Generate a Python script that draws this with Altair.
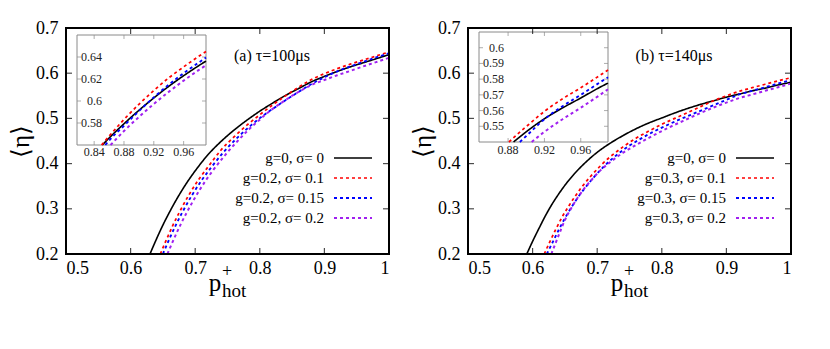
import altair as alt
import pandas as pd

# ---------------- data ----------------
keys = ["s0", "s1", "s2", "s3"]
colors = ["#000000", "#ff0000", "#0000ff", "#a020f0"]
labels_a = ["g=0, σ= 0", "g=0.2, σ= 0.1", "g=0.2, σ= 0.15", "g=0.2, σ= 0.2"]
labels_b = ["g=0, σ= 0", "g=0.3, σ= 0.1", "g=0.3, σ= 0.15", "g=0.3, σ= 0.2"]
title_a = "(a) τ=100μs"
title_b = "(b) τ=140μs"

main_xticks = [0.5, 0.6, 0.7, 0.8, 0.9, 1.0]
main_yticks = [0.2, 0.3, 0.4, 0.5, 0.6, 0.7]

# panel (a) main curves
a_black_x = [0.630, 0.640, 0.650, 0.660, 0.670, 0.680, 0.690, 0.700, 0.720, 0.740, 0.760, 0.780,
             0.800, 0.820, 0.840, 0.860, 0.880, 0.900, 0.920, 0.940, 0.960, 0.980, 1.000]
a_black_y = [0.200, 0.233, 0.264, 0.292, 0.318, 0.342, 0.364, 0.384, 0.420, 0.449, 0.474, 0.496,
             0.516, 0.534, 0.551, 0.566, 0.581, 0.593, 0.604, 0.614, 0.623, 0.632, 0.641]
a_red_x = [0.646, 0.655, 0.665, 0.675, 0.690, 0.705, 0.720, 0.740, 0.760, 0.780, 0.800, 0.820,
           0.840, 0.860, 0.880, 0.900, 0.920, 0.940, 0.960, 0.980, 1.000]
a_red_y = [0.200, 0.230, 0.262, 0.291, 0.330, 0.364, 0.393, 0.430, 0.459, 0.485, 0.508, 0.530,
           0.550, 0.569, 0.586, 0.599, 0.610, 0.620, 0.629, 0.638, 0.647]
a_blue_x = [0.650, 0.660, 0.670, 0.680, 0.695, 0.710, 0.725, 0.745, 0.765, 0.785, 0.805, 0.825,
            0.845, 0.865, 0.880, 0.900, 0.920, 0.940, 0.960, 0.980, 1.000]
a_blue_y = [0.200, 0.233, 0.264, 0.292, 0.330, 0.363, 0.392, 0.427, 0.457, 0.483, 0.506, 0.526,
            0.545, 0.563, 0.576, 0.591, 0.604, 0.615, 0.625, 0.635, 0.644]
a_purple_x = [0.657, 0.667, 0.677, 0.687, 0.697, 0.707, 0.717, 0.727, 0.747, 0.765, 0.782, 0.799,
              0.815, 0.833, 0.851, 0.869, 0.880, 0.900, 0.920, 0.940, 0.960, 0.980, 1.000]
a_purple_y = [0.200, 0.233, 0.264, 0.292, 0.318, 0.342, 0.364, 0.384, 0.420, 0.449, 0.474, 0.496,
              0.516, 0.534, 0.551, 0.566, 0.574, 0.585, 0.5955, 0.605, 0.615, 0.6245, 0.634]

# panel (a) inset curves
ai_black_x = [0.851, 0.860, 0.880, 0.900, 0.920, 0.940, 0.960, 0.980, 0.990]
ai_black_y = [0.560, 0.5663, 0.5793, 0.5915, 0.6028, 0.6133, 0.6230, 0.6320, 0.6363]
ai_red_x = [0.850, 0.860, 0.880, 0.900, 0.920, 0.940, 0.960, 0.980, 0.990]
ai_red_y = [0.560, 0.568, 0.5832, 0.597, 0.6095, 0.621, 0.631, 0.6405, 0.645]
ai_blue_x = [0.855, 0.860, 0.880, 0.900, 0.920, 0.940, 0.960, 0.980, 0.990]
ai_blue_y = [0.560, 0.564, 0.5775, 0.5908, 0.6033, 0.6148, 0.6253, 0.6348, 0.6395]
ai_purple_x = [0.862, 0.870, 0.880, 0.900, 0.920, 0.940, 0.960, 0.980, 0.990]
ai_purple_y = [0.560, 0.5657, 0.5727, 0.5854, 0.5973, 0.6083, 0.6185, 0.628, 0.6325]
ai_xdom = [0.817, 0.99]
ai_ydom = [0.56, 0.66]
ai_xticks = [0.84, 0.88, 0.92, 0.96]
ai_yticks = [0.58, 0.60, 0.62, 0.64]

# panel (b) main curves
b_black_x = [0.591, 0.600, 0.610, 0.620, 0.630, 0.640, 0.650, 0.665, 0.680, 0.700, 0.720, 0.740, 0.760,
             0.780, 0.800, 0.820, 0.840, 0.860, 0.880, 0.900, 0.920, 0.940, 0.960, 0.980, 1.000]
b_black_y = [0.200, 0.228, 0.257, 0.285, 0.310, 0.332, 0.352, 0.378, 0.400, 0.425, 0.445, 0.462, 0.477,
             0.490, 0.501, 0.512, 0.522, 0.531, 0.539, 0.547, 0.554, 0.561, 0.567, 0.574, 0.580]
b_red_x = [0.618, 0.625, 0.635, 0.645, 0.655, 0.665, 0.675, 0.690, 0.705, 0.720, 0.740, 0.760,
           0.780, 0.800, 0.820, 0.840, 0.860, 0.880, 0.900, 0.920, 0.940, 0.960, 0.980, 1.000]
b_red_y = [0.200, 0.222, 0.252, 0.280, 0.304, 0.326, 0.346, 0.372, 0.395, 0.415, 0.437, 0.456,
           0.472, 0.487, 0.500, 0.513, 0.526, 0.539, 0.550, 0.560, 0.568, 0.5755, 0.583, 0.590]
b_blue_x = [0.622, 0.630, 0.640, 0.650, 0.660, 0.670, 0.680, 0.695, 0.710, 0.725, 0.745, 0.765,
            0.785, 0.805, 0.825, 0.845, 0.865, 0.885, 0.900, 0.920, 0.940, 0.960, 0.980, 1.000]
b_blue_y = [0.200, 0.223, 0.252, 0.279, 0.303, 0.325, 0.344, 0.370, 0.393, 0.413, 0.435, 0.453,
            0.469, 0.483, 0.496, 0.508, 0.520, 0.532, 0.541, 0.553, 0.561, 0.569, 0.577, 0.585]
b_purple_x = [0.629, 0.640, 0.650, 0.660, 0.670, 0.680, 0.690, 0.705, 0.720, 0.740, 0.760, 0.780,
              0.800, 0.820, 0.840, 0.860, 0.880, 0.900, 0.920, 0.940, 0.960, 0.980, 1.000]
b_purple_y = [0.200, 0.240, 0.275, 0.302, 0.325, 0.345, 0.362, 0.385, 0.403, 0.424, 0.441, 0.457,
              0.472, 0.486, 0.499, 0.512, 0.524, 0.535, 0.545, 0.553, 0.561, 0.569, 0.577]

# panel (b) inset curves
bi_black_x = [0.886, 0.900, 0.920, 0.940, 0.960, 0.980, 0.990]
bi_black_y = [0.540, 0.5465, 0.5548, 0.5617, 0.5680, 0.5745, 0.5775]
bi_red_x = [0.881, 0.890, 0.900, 0.920, 0.940, 0.960, 0.980, 0.990]
bi_red_y = [0.540, 0.5448, 0.5498, 0.5595, 0.5675, 0.5745, 0.5820, 0.5858]
bi_blue_x = [0.893, 0.900, 0.920, 0.940, 0.960, 0.980, 0.990]
bi_blue_y = [0.540, 0.5438, 0.5545, 0.5628, 0.5700, 0.5775, 0.5812]
bi_purple_x = [0.906, 0.920, 0.940, 0.960, 0.980, 0.990]
bi_purple_y = [0.540, 0.5465, 0.5545, 0.5618, 0.5695, 0.5735]
bi_xdom = [0.848, 0.99]
bi_ydom = [0.54, 0.61]
bi_xticks = [0.88, 0.92, 0.96]
bi_yticks = [0.55, 0.56, 0.57, 0.58, 0.59, 0.60]

# ---------------- layout constants ----------------
W, H = 323, 226
SERIF = "Liberation Serif"


def make_df(xs_list, ys_list):
    rows = []
    for k, xs, ys in zip(keys, xs_list, ys_list):
        for i, (x, y) in enumerate(zip(xs, ys)):
            rows.append({"key": k, "x": x, "y": y, "i": i})
    return pd.DataFrame(rows)


color_enc = alt.Color("key:N", scale=alt.Scale(domain=keys, range=colors), legend=None)
dash_enc = alt.StrokeDash("key:N", scale=alt.Scale(domain=keys, range=[[1, 0], [3, 3], [3, 3], [3, 3]]),
                          legend=None)
width_enc = alt.StrokeWidth("key:O", scale=alt.Scale(domain=keys, range=[1.6, 2, 2, 2]), legend=None)


def panel(main_df, inset_df, labels, title, in_xdom, in_ydom, in_xticks, in_yticks,
          in_xr, in_yr, xlab_dy):
    xs_main = alt.Scale(domain=[0.5, 1.0], nice=False, zero=False)
    ys_main = alt.Scale(domain=[0.2, 0.7], nice=False, zero=False)
    xs_in = alt.Scale(domain=in_xdom, range=in_xr, nice=False, zero=False)
    ys_in = alt.Scale(domain=in_ydom, range=[in_yr[1], in_yr[0]], nice=False, zero=False)

    main_lines = alt.Chart(main_df).mark_line(interpolate="monotone").encode(
        x=alt.X("x:Q", scale=xs_main,
                axis=alt.Axis(orient="bottom", values=main_xticks, format="~g", ticks=False, tickSize=0,
                              domain=False, grid=False, labelFontSize=18, labelPadding=5,
                              labelFont=SERIF, labelColor="black", title=None)),
        y=alt.Y("y:Q", scale=ys_main,
                axis=alt.Axis(orient="left", values=main_yticks, format="~g", ticks=False, tickSize=0,
                              domain=False, grid=False, labelFontSize=18, labelPadding=8,
                              labelFont=SERIF, labelColor="black", title="⟨η⟩",
                              titleFontSize=25, titleFont=SERIF, titleFontWeight="normal",
                              titleColor="black", titlePadding=2)),
        color=color_enc, strokeDash=dash_enc, strokeWidth=width_enc, order="i:Q",
    )

    dummy = pd.DataFrame({"a": [0]})
    border = alt.Chart(dummy).mark_rect(fill="white", fillOpacity=0, stroke="#000000",
                                        strokeWidth=2).encode(
        x=alt.value(0), x2=alt.value(W), y=alt.value(0), y2=alt.value(H))

    xt = pd.DataFrame({"v": main_xticks})
    yt = pd.DataFrame({"v": main_yticks})
    tick_style = dict(color="black", size=6, thickness=1.2)
    t_bottom = alt.Chart(xt).mark_tick(orient="vertical", yOffset=-3, **tick_style).encode(
        x=alt.X("v:Q", scale=xs_main, axis=None), y=alt.value(H))
    t_top = alt.Chart(xt).mark_tick(orient="vertical", yOffset=3, **tick_style).encode(
        x=alt.X("v:Q", scale=xs_main, axis=None), y=alt.value(0))
    t_left = alt.Chart(yt).mark_tick(orient="horizontal", xOffset=3, **tick_style).encode(
        y=alt.Y("v:Q", scale=ys_main, axis=None), x=alt.value(0))
    t_right = alt.Chart(yt).mark_tick(orient="horizontal", xOffset=-3, **tick_style).encode(
        y=alt.Y("v:Q", scale=ys_main, axis=None), x=alt.value(W))

    frame = alt.Chart(dummy).mark_rect(fill="white", stroke="#8a8a8a", strokeWidth=1).encode(
        x=alt.value(in_xr[0]), x2=alt.value(in_xr[1]), y=alt.value(in_yr[0]), y2=alt.value(in_yr[1]))

    ixt = pd.DataFrame({"v": in_xticks})
    iyt = pd.DataFrame({"v": in_yticks})
    itk = dict(color="#8a8a8a", size=4, thickness=1)
    it_bottom = alt.Chart(ixt).mark_tick(orient="vertical", yOffset=-2, **itk).encode(
        x=alt.X("v:Q", scale=xs_in, axis=None), y=alt.value(in_yr[1]))
    it_top = alt.Chart(ixt).mark_tick(orient="vertical", yOffset=2, **itk).encode(
        x=alt.X("v:Q", scale=xs_in, axis=None), y=alt.value(in_yr[0]))
    it_left = alt.Chart(iyt).mark_tick(orient="horizontal", xOffset=2, **itk).encode(
        y=alt.Y("v:Q", scale=ys_in, axis=None), x=alt.value(in_xr[0]))
    it_right = alt.Chart(iyt).mark_tick(orient="horizontal", xOffset=-2, **itk).encode(
        y=alt.Y("v:Q", scale=ys_in, axis=None), x=alt.value(in_xr[1]))

    il_x = alt.Chart(ixt).mark_text(font=SERIF, fontSize=12, baseline="middle", align="center",
                                    color="#222222").encode(
        x=alt.X("v:Q", scale=xs_in, axis=None), y=alt.value(in_yr[1] + xlab_dy),
        text=alt.Text("v:Q", format="~g"))
    il_y = alt.Chart(iyt).mark_text(font=SERIF, fontSize=12, baseline="middle", align="right",
                                    color="#222222").encode(
        y=alt.Y("v:Q", scale=ys_in, axis=None), x=alt.value(in_xr[0] + 25),
        text=alt.Text("v:Q", format="~g"))

    inset_lines = alt.Chart(inset_df).mark_line(interpolate="monotone").encode(
        x=alt.X("x:Q", scale=xs_in, axis=None),
        y=alt.Y("y:Q", scale=ys_in, axis=None),
        color=color_enc, strokeDash=dash_enc, strokeWidth=width_enc, order="i:Q",
    )

    leg_df = pd.DataFrame({"key": keys, "label": labels})
    leg_scale = alt.Scale(type="point", domain=keys, range=[130, 190], padding=0)
    leg_text = alt.Chart(leg_df).mark_text(font=SERIF, fontSize=15, align="right", baseline="middle",
                                           color="black").encode(
        x=alt.value(258), y=alt.Y("key:N", scale=leg_scale, axis=None), text="label:N")
    leg_line = alt.Chart(leg_df).mark_rule().encode(
        x=alt.value(268), x2=alt.value(306), y=alt.Y("key:N", scale=leg_scale, axis=None),
        color=color_enc, strokeDash=dash_enc, strokeWidth=width_enc)

    ttl = alt.Chart(dummy).mark_text(text=title, font=SERIF, fontSize=16, align="center",
                                     baseline="middle", color="black").encode(
        x=alt.value(206), y=alt.value(28))
    xp = alt.Chart(dummy).mark_text(text="p", font=SERIF, fontSize=25, align="center",
                                    baseline="alphabetic", color="black").encode(
        x=alt.value(149), y=alt.value(H + 37))
    xhot = alt.Chart(dummy).mark_text(text="hot", font=SERIF, fontSize=19, align="left",
                                      baseline="alphabetic", color="black").encode(
        x=alt.value(156), y=alt.value(H + 43))
    xplus = alt.Chart(dummy).mark_text(text="+", font=SERIF, fontSize=18, align="center",
                                       baseline="middle", color="black").encode(
        x=alt.value(161), y=alt.value(H + 18))

    return alt.layer(
        main_lines, frame, it_bottom, it_top, it_left, it_right, il_x, il_y, inset_lines,
        t_bottom, t_top, t_left, t_right, border,
        leg_text, leg_line, ttl, xp, xhot, xplus,
    ).resolve_scale(x="independent", y="independent").properties(width=W, height=H)


left = panel(
    make_df([a_black_x, a_red_x, a_blue_x, a_purple_x], [a_black_y, a_red_y, a_blue_y, a_purple_y]),
    make_df([ai_black_x, ai_red_x, ai_blue_x, ai_purple_x], [ai_black_y, ai_red_y, ai_blue_y, ai_purple_y]),
    labels_a, title_a, ai_xdom, ai_ydom, ai_xticks, ai_yticks, [11, 140], [7, 117], 7)

right = panel(
    make_df([b_black_x, b_red_x, b_blue_x, b_purple_x], [b_black_y, b_red_y, b_blue_y, b_purple_y]),
    make_df([bi_black_x, bi_red_x, bi_blue_x, bi_purple_x], [bi_black_y, bi_red_y, bi_blue_y, bi_purple_y]),
    labels_b, title_b, bi_xdom, bi_ydom, bi_xticks, bi_yticks, [11, 140], [4, 114], 8)

chart = alt.hconcat(left, right, spacing=17).properties(
    padding={"left": 0, "top": 11, "right": 0, "bottom": 0}, background="white"
).configure_view(strokeOpacity=0)

chart.save("out.html", embed_options={"renderer": "svg", "actions": False})
